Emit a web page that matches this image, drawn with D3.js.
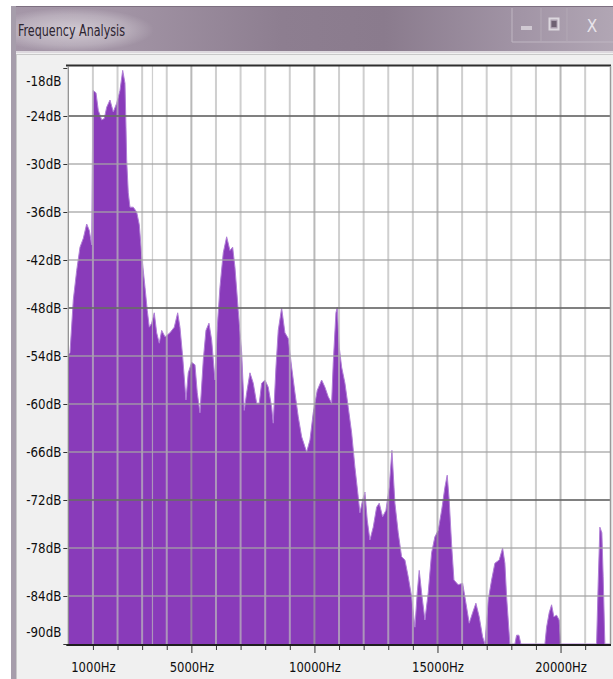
<!DOCTYPE html>
<html>
<head>
<meta charset="utf-8">
<script src="https://cdn.jsdelivr.net/npm/d3@7"></script>
<style>
    body{margin:0;background:#fff;}
    svg{display:block;}
    .lbl{font-family:"Liberation Sans Narrow","DejaVu Sans Condensed","Arial Narrow",sans-serif;fill:#0e0e0e;}
</style>
</head>
<body>
<div id="chart"></div>
<script>
//spectrum: frequency (Hz) and level (dB)
let freqHz=[0,69,203,341,475,609,747,853,950,1003,
    1125,1219,1357,1462,1560,1694,1828,1966,2100,2210,
    2303,2344,2372,2437,2506,2640,2778,2884,2982,3116,
    3209,3290,3388,3493,3591,3696,3794,3928,4131,4306,
    4444,4537,4647,4781,4874,5012,5147,5240,5350,5484,
    5593,5715,5825,5959,6052,6162,6296,6434,6568,6678,
    6771,6905,7044,7149,7247,7381,7515,7653,7759,7856,
    7990,8124,8262,8327,8437,8530,8668,8802,8936,9075,
    9209,9343,9481,9684,9818,9952,10114,10293,10427,10561,
    10699,10764,10874,10927,11008,11106,11240,11374,11512,11646,
    11780,11849,11958,12052,12146,12255,12389,12527,12633,12771,
    12905,13039,13149,13271,13405,13543,13677,13811,13949,14083,
    14177,14258,14355,14489,14623,14761,14895,15029,15168,15302,
    15395,15476,15574,15668,15842,16021,16114,16289,16427,16561,
    16695,16833,16927,17061,17199,17333,17508,17646,17739,17808,
    17942,18145,18214,18308,18389,19364,19433,19538,19636,19729,
    19839,19944,20001,21464,21529,21598,21679,21732,21801,22050];
let levelDb=[-53.9,-53.6,-47,-43.3,-40.4,-39.3,-37.5,-38.3,-40.1,-20.8,
    -21.1,-23.3,-24.5,-24.3,-22.9,-22,-23.5,-22.4,-20.8,-18.3,
    -19.9,-25.4,-29.5,-33.6,-35.4,-35.4,-36,-37.6,-41.4,-45.4,
    -48.3,-50.4,-49.9,-48.6,-51.1,-52.4,-50.8,-51.6,-51.1,-50.4,
    -48.6,-50.4,-54.1,-59.5,-56.1,-54.8,-55.1,-58.6,-61.1,-54.5,
    -50.8,-49.9,-52,-57,-50.4,-45.4,-41.1,-39.1,-40.8,-40.4,
    -42.9,-48.3,-53.6,-60.8,-58.6,-56.1,-57.4,-59.9,-59.9,-57.4,
    -57,-57.9,-60.4,-62.4,-55.4,-50.8,-48,-51.1,-51.8,-55.4,
    -58.6,-61.6,-64.1,-66,-64.5,-61.1,-58.3,-57,-57.9,-59.1,
    -59.9,-54.9,-48.6,-47.9,-52.9,-55.4,-57.4,-60.4,-63.6,-67.9,
    -71.6,-73.6,-72,-71,-74.5,-77,-75.4,-72.9,-72.4,-74.1,
    -73.3,-70.4,-65.8,-72.4,-76.1,-79.1,-79.5,-81.6,-84.1,-87.9,
    -83.6,-80.8,-83.6,-87,-83.6,-78.6,-76.6,-75.8,-73.3,-70.4,
    -68.9,-72,-77.6,-82,-82.6,-82.4,-84.1,-87.4,-86.1,-84.9,
    -86.6,-89.1,-90,-84.5,-82,-79.9,-79.5,-78,-79.9,-84.1,
    -90,-90,-88.9,-88.9,-90,-90,-87.9,-86.1,-85.1,-86.6,
    -86.4,-87,-90,-90,-82.4,-75.4,-76.1,-81.6,-90,-90];

let dbTicks=[-18,-24,-30,-36,-42,-48,-54,-60,-66,-72,-78,-84,-90];
let dbMajor=[-24,-48,-72];
let hzTicks=d3.range(1000,22000,1000);
let hzLabels=[1000,5000,10000,15000,20000];
let cursorHz=3420;
let title=`Frequency Analysis`;

let W=613,H=679;
let plot={left:68.3,right:611,top:68,bottom:644};

let svg=d3.select(`#chart`).append(`svg`)
    .attr(`width`,W)
    .attr(`height`,H);

let defs=svg.append(`defs`);
let grad=defs.append(`linearGradient`).attr(`id`,`bar`);
[[0,`#a597a8`],[0.18,`#a294a5`],[0.45,`#8d7e90`],[0.62,`#8a7b8d`],[0.85,`#a295a6`],[1,`#b1a6b4`]]
    .forEach(s=>grad.append(`stop`).attr(`offset`,s[0]).attr(`stop-color`,s[1]));
let glow=defs.append(`radialGradient`).attr(`id`,`glow`);
glow.append(`stop`).attr(`offset`,0).attr(`stop-color`,`#fff`).attr(`stop-opacity`,0.5);
glow.append(`stop`).attr(`offset`,0.7).attr(`stop-color`,`#fff`).attr(`stop-opacity`,0.22);
glow.append(`stop`).attr(`offset`,1).attr(`stop-color`,`#fff`).attr(`stop-opacity`,0);

//window chrome
svg.append(`rect`).attr(`x`,11).attr(`y`,6).attr(`width`,W-11).attr(`height`,45).attr(`fill`,`url(#bar)`);
svg.append(`ellipse`).attr(`cx`,72).attr(`cy`,30).attr(`rx`,82).attr(`ry`,22).attr(`fill`,`url(#glow)`);
svg.append(`rect`).attr(`x`,11).attr(`y`,6).attr(`width`,W-11).attr(`height`,1).attr(`fill`,`#7d6f80`);
svg.append(`rect`).attr(`x`,11).attr(`y`,6).attr(`width`,5).attr(`height`,H-6).attr(`fill`,`#a69dab`);
svg.append(`rect`).attr(`x`,16).attr(`y`,51).attr(`width`,W-16).attr(`height`,H-51).attr(`fill`,`#f0f0f0`);
svg.append(`rect`).attr(`x`,16).attr(`y`,51).attr(`width`,W-16).attr(`height`,2).attr(`fill`,`#ddd8de`);
svg.append(`rect`).attr(`x`,16).attr(`y`,54).attr(`width`,W-16).attr(`height`,1).attr(`fill`,`#c9c9c9`);
svg.append(`rect`).attr(`x`,16).attr(`y`,54).attr(`width`,1).attr(`height`,H-54).attr(`fill`,`#c9c9c9`);

svg.append(`text`)
    .attr(`x`,18).attr(`y`,36)
    .attr(`textLength`,107).attr(`lengthAdjust`,`spacingAndGlyphs`)
    .style(`font-family`,`"Liberation Sans Narrow","DejaVu Sans Condensed",sans-serif`)
    .style(`font-size`,`15px`)
    .attr(`fill`,`#2c2430`)
    .text(title);

//caption buttons
let btn=svg.append(`g`);
btn.append(`path`).attr(`d`,`M512,8V42H613`).attr(`fill`,`none`).attr(`stroke`,`#bfb6c2`).attr(`stroke-width`,1);
btn.append(`path`).attr(`d`,`M541,8V42M567,8V42`).attr(`stroke`,`#b2a8b5`).attr(`stroke-width`,1);
btn.append(`rect`).attr(`x`,521).attr(`y`,26).attr(`width`,11).attr(`height`,4).attr(`fill`,`#d0c9d2`);
btn.append(`rect`).attr(`x`,549.5).attr(`y`,18.5).attr(`width`,9).attr(`height`,11).attr(`fill`,`none`).attr(`stroke`,`#dcd7de`).attr(`stroke-width`,2);
btn.append(`rect`).attr(`x`,551.5).attr(`y`,21).attr(`width`,5).attr(`height`,6).attr(`fill`,`#6e6172`);
btn.append(`text`).attr(`x`,592).attr(`y`,32).attr(`text-anchor`,`middle`)
    .style(`font-family`,`"DejaVu Sans Condensed",sans-serif`).style(`font-size`,`17px`)
    .attr(`fill`,`#e8e4ea`).text(`X`);

//scales
let x=d3.scaleLinear().domain([0,22050]).range([plot.left,plot.right]);
let y=d3.scaleLinear().domain([-90,-18]).range([plot.bottom,plot.top]);

svg.append(`rect`).attr(`x`,plot.left).attr(`y`,65).attr(`width`,plot.right-plot.left).attr(`height`,plot.bottom-65).attr(`fill`,`#fff`);

//spectrum
let spec=freqHz.map((f,i)=>({hz:f,db:Math.max(-90,levelDb[i])}));
let area=d3.area().x(d=>x(d.hz)).y0(y(-90)).y1(d=>y(d.db));
let edge=d3.line().x(d=>x(d.hz)).y(d=>y(d.db));
svg.append(`path`).datum(spec).attr(`d`,area).attr(`fill`,`#893bba`);
svg.append(`path`).datum(spec).attr(`d`,edge).attr(`fill`,`none`).attr(`stroke`,`#b07fd6`).attr(`stroke-width`,1);

//grid over the spectrum
let grid=svg.append(`g`).attr(`class`,`grid`);
grid.selectAll(`.v`).data(hzTicks.concat([cursorHz])).enter().append(`line`)
    .attr(`x1`,d=>x(d)).attr(`x2`,d=>x(d))
    .attr(`y1`,66).attr(`y2`,plot.bottom)
    .attr(`stroke`,d=>d%5000==0?`#9c9c9c`:`#bcbcbc`)
    .attr(`stroke-width`,d=>d==cursorHz?1.2:2)
    .attr(`opacity`,0.7);
grid.selectAll(`.h`).data(dbTicks.filter(d=>d>-90&&d<-18)).enter().append(`line`)
    .attr(`x1`,plot.left).attr(`x2`,plot.right)
    .attr(`y1`,d=>y(d)).attr(`y2`,d=>y(d))
    .attr(`stroke`,d=>dbMajor.includes(d)?`#6a6a6a`:`#a4a4a4`)
    .attr(`stroke-width`,d=>dbMajor.includes(d)?1.8:1.6)
    .attr(`opacity`,0.85);

//frame
svg.append(`line`).attr(`x1`,66).attr(`x2`,plot.right).attr(`y1`,65.5).attr(`y2`,65.5).attr(`stroke`,`#2e2e2e`).attr(`stroke-width`,2);
svg.append(`line`).attr(`x1`,plot.left).attr(`x2`,plot.left).attr(`y1`,66).attr(`y2`,plot.bottom).attr(`stroke`,`#8a8a8a`).attr(`stroke-width`,1.2);
svg.append(`line`).attr(`x1`,plot.right-0.5).attr(`x2`,plot.right-0.5).attr(`y1`,66).attr(`y2`,plot.bottom).attr(`stroke`,`#9a9a9a`).attr(`stroke-width`,1.5);
svg.append(`line`).attr(`x1`,plot.left-2).attr(`x2`,plot.right).attr(`y1`,plot.bottom+1).attr(`y2`,plot.bottom+1).attr(`stroke`,`#1e1e1e`).attr(`stroke-width`,2);

//y axis
let yAxis=svg.append(`g`)
    .attr(`transform`,`translate(${plot.left-1},0)`)
    .call(d3.axisLeft(y).tickValues(dbTicks).tickSize(4).tickPadding(2).tickFormat(d=>`${d}dB`));
yAxis.select(`.domain`).remove();
yAxis.selectAll(`line`).attr(`stroke`,`#333`);
yAxis.selectAll(`text`)
    .attr(`class`,`lbl`)
    .style(`font-size`,`14px`)
    .attr(`textLength`,d=>`${d}dB`.length*7)
    .attr(`lengthAdjust`,`spacingAndGlyphs`)
    .attr(`y`,d=>d==-18?13:d==-90?-12:0);

//x axis
let xAxis=svg.append(`g`)
    .attr(`transform`,`translate(0,${plot.bottom+2})`)
    .call(d3.axisBottom(x).tickValues(hzTicks).tickSize(4).tickPadding(12)
        .tickFormat(d=>hzLabels.includes(d)?`${d}Hz`:``));
xAxis.select(`.domain`).remove();
xAxis.selectAll(`line`).attr(`stroke`,`#333`).attr(`y2`,d=>d%5000==0?7:4);
xAxis.selectAll(`text`)
    .attr(`class`,`lbl`)
    .style(`font-size`,`14px`)
    .attr(`textLength`,d=>hzLabels.includes(d)?`${d}Hz`.length*7.4:0)
    .attr(`lengthAdjust`,`spacingAndGlyphs`);
</script>
</body>
</html>
